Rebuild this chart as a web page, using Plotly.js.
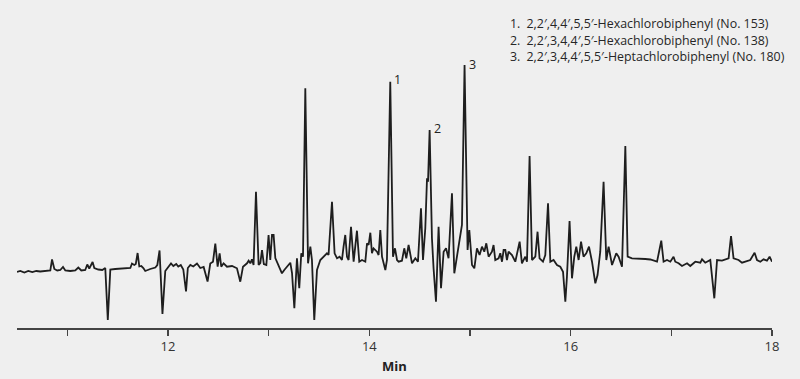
<!DOCTYPE html>
<html>
<head>
<meta charset="utf-8">
<script src="https://cdn.plot.ly/plotly-3.0.1.min.js"></script>
<style>
html,body{margin:0;padding:0;background:#efefef;}
#chart{width:800px;height:379px;}
</style>
</head>
<body>
<div id="chart"></div>
<script>
// Retention time (min)
const times = [
10.500,10.533,10.573,10.612,10.652,10.692,10.731,10.781,10.831,10.848,10.871,10.900,10.930,10.957,10.980,
11.029,11.079,11.109,11.139,11.178,11.198,11.218,11.251,11.268,11.308,11.347,11.377,11.402,11.427,11.476,
11.526,11.576,11.626,11.642,11.665,11.680,11.698,11.715,11.735,11.755,11.774,11.824,11.874,11.894,11.916,
11.945,11.973,12.003,12.030,12.053,12.082,12.102,12.127,12.152,12.179,12.197,12.222,12.251,12.288,12.321,
12.354,12.393,12.420,12.447,12.470,12.493,12.513,12.529,12.552,12.586,12.636,12.685,12.718,12.745,12.785,
12.801,12.818,12.834,12.850,12.874,12.900,12.917,12.934,12.952,12.977,12.999,13.016,13.033,13.049,13.066,
13.099,13.132,13.155,13.182,13.215,13.232,13.255,13.281,13.304,13.324,13.341,13.364,13.391,13.414,13.430,
13.453,13.480,13.513,13.546,13.579,13.595,13.629,13.655,13.679,13.705,13.728,13.744,13.761,13.778,13.794,
13.818,13.844,13.877,13.900,13.927,13.960,13.977,13.993,14.010,14.026,14.042,14.076,14.092,14.109,14.126,
14.159,14.175,14.208,14.235,14.255,14.275,14.291,14.324,14.347,14.367,14.390,14.424,14.457,14.483,14.513,
14.533,14.556,14.573,14.583,14.599,14.622,14.638,14.662,14.688,14.712,14.738,14.762,14.787,14.821,14.844,
14.871,14.897,14.920,14.946,14.976,14.993,15.020,15.043,15.069,15.095,15.119,15.142,15.162,15.185,15.218,
15.234,15.251,15.284,15.301,15.318,15.334,15.351,15.367,15.383,15.417,15.450,15.493,15.516,15.549,15.566,
15.592,15.616,15.649,15.671,15.691,15.725,15.748,15.775,15.798,15.830,15.864,15.897,15.924,15.947,15.963,
15.989,16.013,16.036,16.056,16.079,16.103,16.128,16.155,16.182,16.212,16.245,16.267,16.294,16.327,16.354,
16.377,16.411,16.453,16.476,16.510,16.543,16.566,16.609,16.692,16.741,16.791,16.858,16.900,16.923,16.957,
16.990,17.022,17.039,17.072,17.106,17.156,17.188,17.238,17.288,17.305,17.337,17.387,17.427,17.454,17.503,
17.569,17.593,17.618,17.668,17.702,17.784,17.827,17.851,17.884,17.916,17.950,17.976,18.000
];
// Detector signal (arbitrary units)
const signal = [
56,57,55.5,57,56,57,56.5,57,57.5,68.5,59,57.5,58,61,57.5,
57,57.5,60.5,57.5,58,63.5,59.5,66,60,58.5,58,60,8,58.5,59,
59.5,59.5,60,64.5,63,64,75,61.5,62,60,57,59,60.5,63,77.5,
14,57,61,64.5,62,64,61.5,63,58.5,36.5,60,63,61.5,64.5,60,
61,46.5,64.5,66.3,84.5,61.3,74.7,61.3,64.7,61.3,62,59.7,46.3,61.3,64.7,
67.3,64.7,68.7,63,136.3,63,65,78,64,63,93,68,93,93,70,
63,54.7,58,61,65.3,55,19.7,69.7,39.7,74.7,71.3,239.7,64.7,81.3,68,
8,58,68,71.3,74.7,73,126.3,74.7,69.7,71.3,68,81.3,93,71.3,68,
101.3,66.3,97.3,66.3,68,66.3,84.7,83,95.3,74.7,79.7,76.3,73,98,71.3,
58,68,246.3,71.3,79.7,68,66.3,67.3,79.7,69.7,83,64.7,69.7,66.3,119.7,
68,99.7,149.7,146.3,198,89.7,59.7,26.3,101.3,39.7,76.3,79.7,69.7,134.7,54.7,
71.3,91.3,103,263,78,98,63,59.7,79.7,73,81.3,76.3,84.7,71.3,76.3,
83,68,69.7,74.7,66.3,78,78,68,76.3,73,66.3,86.3,64.7,71.3,66.3,
172,68,71.3,96.3,69.7,66.3,73,124.7,66.3,68,63,61.3,56.3,26.3,51.3,
107,49.7,71.3,81.3,68,86.3,71.3,74.7,81.3,66.3,44.7,53,76.3,146.3,68,
81.3,63,74.7,71.3,61.3,182,71.3,69.7,69.7,69,68.5,66.3,87.3,66.3,68,
66.3,71.3,66.3,64.7,62,64.7,62,66.3,65.3,68.7,65.3,68,29.7,68,67.3,
69.7,92,69.7,68,65.3,68,75.3,68,66.3,68.7,67.3,71.3,66.3
];
const tickVals = [11,12,13,14,15,16,17,18];
const tickLabels = ['','12','','14','','16','','18'];
const peakLabels = ['1','2','3'];
const peakLabelTimes = [14.278, 14.678, 15.020];
const peakLabelSignals = [249, 200, 264];
const compounds = [
  '1.\u20022,2\u2032,4,4\u2032,5,5\u2032-Hexachlorobiphenyl (No. 153)',
  '2.\u20022,2\u2032,3,4,4\u2032,5\u2032-Hexachlorobiphenyl (No. 138)',
  '3.\u20022,2\u2032,3,4,4\u2032,5,5\u2032-Heptachlorobiphenyl (No. 180)'
];

const FONT = '"Open Sans", "Noto Sans", sans-serif';
const annotations = [];
peakLabels.forEach((t, i) => {
  annotations.push({
    x: peakLabelTimes[i], y: peakLabelSignals[i], xref: 'x', yref: 'y',
    text: t, showarrow: false, xanchor: 'center', yanchor: 'middle',
    font: {family: FONT, size: 12.5, color: '#222'}
  });
});
const legendY = [0.990, 0.935, 0.880];
compounds.forEach((t, i) => {
  annotations.push({
    x: 0.650, y: legendY[i], xref: 'paper', yref: 'paper',
    text: t, showarrow: false, xanchor: 'left', yanchor: 'middle',
    font: {family: FONT, size: 12.4, color: '#262626'}
  });
});

const data = [{
  x: times, y: signal, type: 'scatter', mode: 'lines',
  line: {color: '#1e1e1e', width: 1.8},
  hoverinfo: 'skip'
}];

const layout = {
  width: 800, height: 379,
  margin: {l: 17, r: 28, t: 20, b: 51, pad: 0},
  paper_bgcolor: '#efefef', plot_bgcolor: '#efefef',
  showlegend: false,
  xaxis: {
    range: [10.5, 18], tickmode: 'array', tickvals: tickVals, ticktext: tickLabels,
    ticks: 'outside', ticklen: 6, tickwidth: 1.5, tickcolor: '#444',
    showline: true, linecolor: '#444', linewidth: 1.5,
    showgrid: false, zeroline: false,
    tickfont: {family: FONT, size: 13, color: '#333'},
    title: {text: '<b>Min</b>', font: {family: FONT, size: 13, color: '#222'}, standoff: 8}
  },
  yaxis: {
    range: [0, 308], visible: false, showgrid: false, zeroline: false, fixedrange: true
  },
  annotations: annotations
};

Plotly.newPlot('chart', data, layout, {displayModeBar: false, staticPlot: true});
</script>
</body>
</html>
